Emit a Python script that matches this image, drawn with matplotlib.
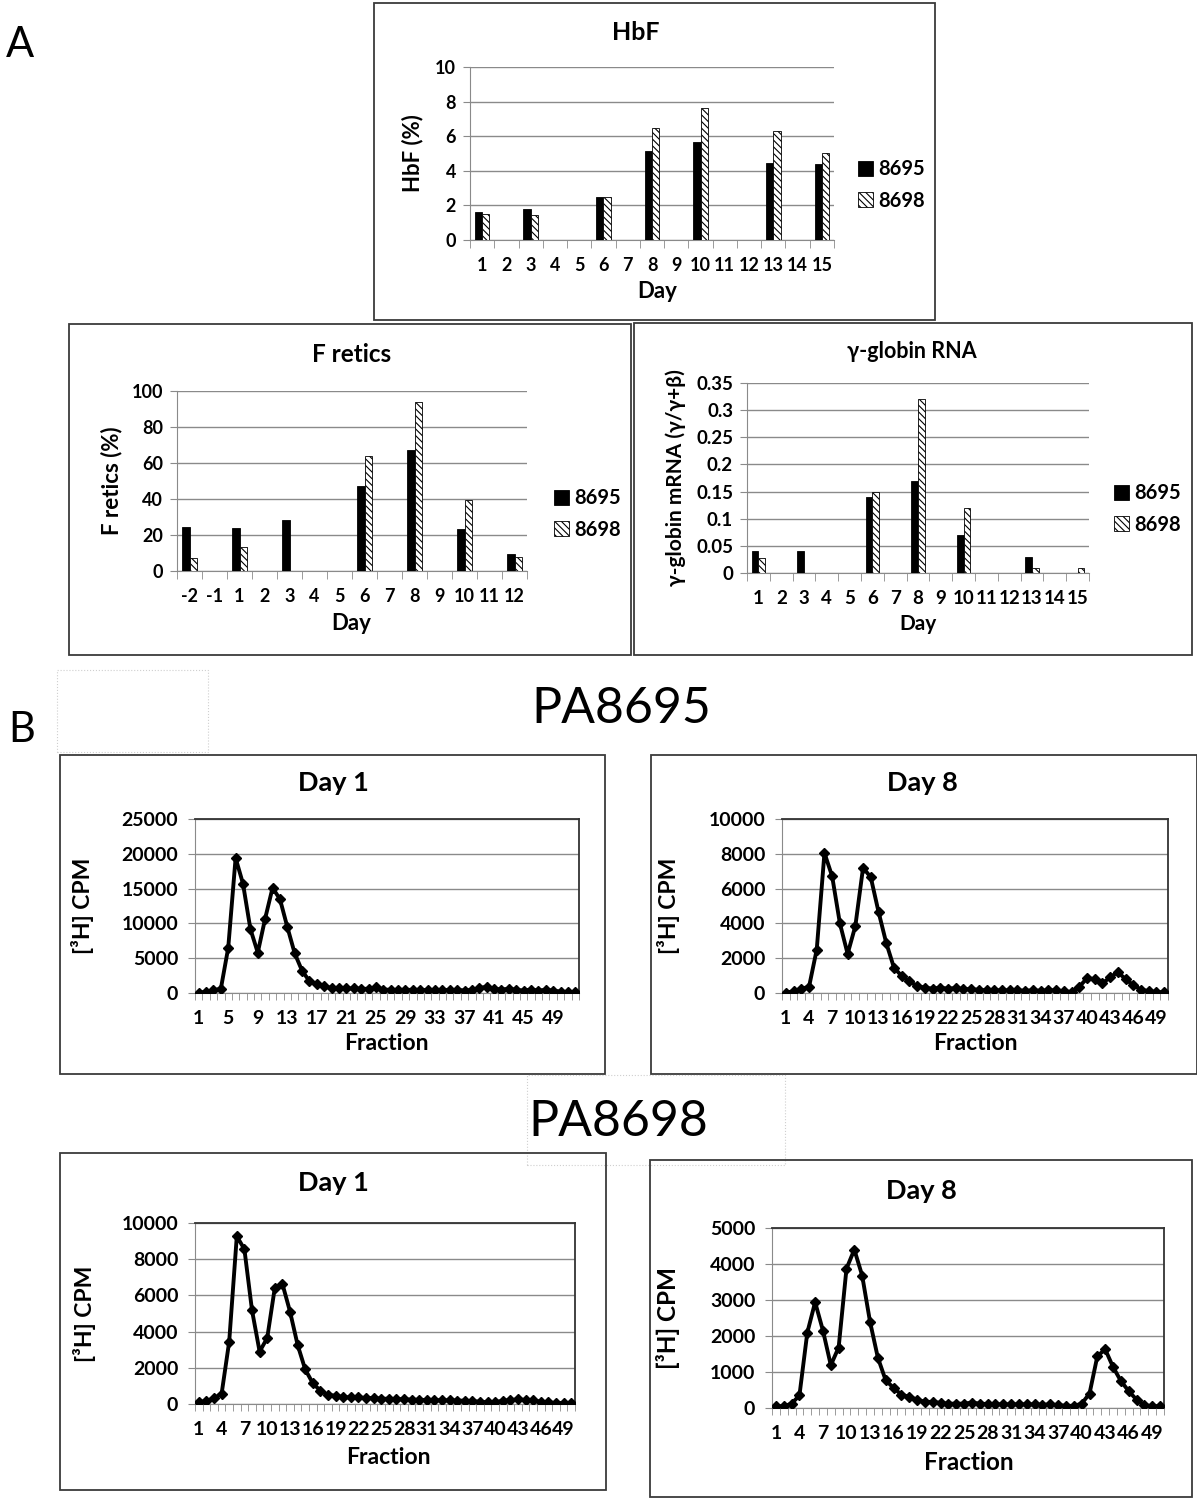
import numpy as np
import matplotlib
matplotlib.use('Agg')
import matplotlib.pyplot as plt
from matplotlib.patches import Rectangle
from matplotlib.ticker import FuncFormatter

W, H = 1197, 1500
plt.rcParams['font.family'] = ['Lato', 'DejaVu Sans']
plt.rcParams['font.weight'] = 'bold'
plt.rcParams['hatch.linewidth'] = 0.8

# --- panel A data (None = not measured) ---
hbf_days = [1, 2, 3, 4, 5, 6, 7, 8, 9, 10, 11, 12, 13, 14, 15]
hbf_8695 = [1.62, None, 1.80, None, None, 2.49, None, 5.13, None, 5.68, None, None, 4.46, None, 4.40]
hbf_8698 = [1.52, None, 1.43, None, None, 2.49, None, 6.47, None, 7.63, None, None, 6.29, None, 5.04]

fret_days = [-2, -1, 1, 2, 3, 4, 5, 6, 7, 8, 9, 10, 11, 12]
fret_8695 = [24.6, None, 24.1, None, 28.3, None, None, 47.0, None, 67.0, None, 23.1, None, 9.3]
fret_8698 = [7.0, None, 13.1, None, None, None, None, 64.0, None, 93.7, None, 39.4, None, 7.8]

glob_days = [1, 2, 3, 4, 5, 6, 7, 8, 9, 10, 11, 12, 13, 14, 15]
glob_8695 = [0.04, None, 0.04, None, None, 0.14, None, 0.17, None, 0.07, None, None, 0.03, None, None]
glob_8698 = [0.028, None, None, None, None, 0.15, None, 0.32, None, 0.12, None, None, 0.01, None, 0.01]

# --- panel B data: [3H] CPM per fraction ---
pa8695_day1 = [50, 150, 400, 600, 6500, 19400, 15700, 9200, 5800, 10700, 15100, 13500, 9500, 5700,
               3200, 1700, 1250, 950, 700, 750, 650, 650, 600, 600, 800, 500, 450, 450, 450, 450,
               450, 400, 400, 450, 400, 450, 350, 450, 700, 900, 600, 500, 600, 450, 350, 500,
               350, 450, 350, 200, 150, 150]
pa8695_day8 = [20, 100, 250, 350, 2500, 8050, 6700, 4000, 2250, 3850, 7200, 6650, 4670, 2880,
               1460, 980, 670, 400, 300, 250, 300, 250, 280, 220, 220, 180, 150, 150, 150, 150,
               150, 130, 150, 130, 150, 150, 100, 60, 350, 850, 800, 550, 900, 1200, 800, 450,
               200, 100, 50, 50]
pa8698_day1 = [110, 150, 330, 560, 3450, 9270, 8550, 5180, 2900, 3640, 6420, 6640, 5110, 3270,
               1910, 1150, 730, 510, 450, 380, 360, 360, 330, 330, 290, 290, 270, 260, 240, 230,
               220, 210, 200, 200, 190, 180, 150, 130, 90, 100, 180, 210, 260, 220, 220, 110,
               90, 55, 55, 55]
pa8698_day8 = [50, 50, 120, 350, 2090, 2940, 2150, 1190, 1680, 3870, 4400, 3680, 2400, 1400,
               770, 560, 370, 310, 230, 170, 170, 140, 120, 120, 120, 150, 120, 110, 100, 100,
               100, 100, 100, 100, 90, 100, 80, 60, 60, 120, 400, 1440, 1630, 1140, 750, 470,
               230, 80, 50, 50]

GRID = '#8a8a8a'
fig = plt.figure(figsize=(W / 100, H / 100), dpi=100)


def fx(x):
    return x / W


def fy(y):
    return 1 - y / H


def frame(x0, y0, x1, y1, **kw):
    fig.add_artist(Rectangle((fx(x0), fy(y1)), (x1 - x0) / W, (y1 - y0) / H,
                             transform=fig.transFigure, fill=False, **kw))


def axes_at(x0, y0, x1, y1):
    return fig.add_axes([fx(x0), fy(y1), (x1 - x0) / W, (y1 - y0) / H])


def fmt(v, pos):
    return '{:g}'.format(round(v, 4))


def label_texts(plot, title, title_pos, xlabel, xlabel_pos, ylabel, ylabel_x,
                tsize=18, lsize=16):
    fig.text(fx(title_pos[0]), fy(title_pos[1]), title, ha='center', va='center', fontsize=tsize)
    fig.text(fx(xlabel_pos[0]), fy(xlabel_pos[1]), xlabel, ha='center', va='center', fontsize=lsize)
    fig.text(fx(ylabel_x), fy((plot[1] + plot[3]) / 2), ylabel, ha='center', va='center',
             rotation=90, fontsize=lsize)


def bar_panel(plot, days, s1, s2, ymax, ystep, leg_pos, tsize=13):
    ax = axes_at(*plot)
    n = len(days)
    x = np.arange(n)
    a = np.array(s1, dtype=float)
    b = np.array(s2, dtype=float)
    ma, mb = ~np.isnan(a), ~np.isnan(b)
    ax.bar(x[ma] - 0.15, a[ma], 0.3, color='black', edgecolor='black', lw=0.6,
           label='8695', zorder=3)
    ax.bar(x[mb] + 0.15, b[mb], 0.3, color='white', edgecolor='black', lw=0.6,
           hatch='\\\\\\\\\\', label='8698', zorder=3)
    ax.set_xlim(-0.5, n - 0.5)
    ax.set_ylim(0, ymax)
    ax.set_yticks(np.arange(0, ymax + ystep / 2, ystep))
    ax.yaxis.set_major_formatter(FuncFormatter(fmt))
    ax.set_xticks(x)
    ax.set_xticklabels([str(d) for d in days])
    ax.set_xticks(np.arange(-0.5, n), minor=True)
    ax.yaxis.grid(True, color=GRID, lw=1)
    ax.set_axisbelow(True)
    for s in ('top', 'right'):
        ax.spines[s].set_visible(False)
    for s in ('left', 'bottom'):
        ax.spines[s].set_color(GRID)
    ax.tick_params(axis='x', which='major', length=0, pad=12, labelsize=tsize)
    ax.tick_params(axis='x', which='minor', length=6, color=GRID, direction='out')
    ax.tick_params(axis='y', length=5, color=GRID, pad=5, labelsize=tsize)
    ax.legend(loc='center left', bbox_to_anchor=(fx(leg_pos[0]), fy(leg_pos[1])),
              bbox_transform=fig.transFigure, frameon=False, fontsize=14.5,
              handlelength=0.75, handleheight=0.75, handletextpad=0.25, labelspacing=0.55,
              borderpad=0, borderaxespad=0)
    return ax


def line_panel(plot, vals, ymax, ystep, step):
    ax = axes_at(*plot)
    n = len(vals)
    fr = np.arange(1, n + 1)
    ax.plot(fr, vals, color='black', lw=2.8, marker='D', ms=5.5, zorder=3)
    ax.set_xlim(0.5, n + 0.5)
    ax.set_ylim(0, ymax)
    ax.set_yticks(np.arange(0, ymax + ystep / 2, ystep))
    ax.set_xticks(fr[::step])
    ax.set_xticklabels([str(v) for v in fr[::step]])
    ax.set_xticks(np.arange(0.5, n + 1), minor=True)
    ax.yaxis.grid(True, color=GRID, lw=1)
    ax.set_axisbelow(True)
    for s in ('top', 'right'):
        ax.spines[s].set_color('#333333')
        ax.spines[s].set_linewidth(1.3)
    for s in ('left', 'bottom'):
        ax.spines[s].set_color(GRID)
    ax.tick_params(axis='x', which='major', length=0, pad=12, labelsize=14)
    ax.tick_params(axis='x', which='minor', length=5, color=GRID, direction='out')
    ax.tick_params(axis='y', length=5, color=GRID, pad=7, labelsize=14)
    return ax


BOX = dict(edgecolor='#3a3a3a', lw=1.3)

# ---------------- panel A ----------------
fig.text(fx(20), fy(45), 'A', ha='center', va='center', fontsize=30, weight='normal')

frame(374, 3, 935, 320, **BOX)
p = (470, 67, 834, 240)
bar_panel(p, hbf_days, hbf_8695, hbf_8698, 10, 2, (858, 185))
label_texts(p, 'HbF', (636, 33), 'Day', (657, 291), 'HbF (%)', 413)

frame(69, 324, 631, 655, **BOX)
p = (177, 391, 527, 571)
bar_panel(p, fret_days, fret_8695, fret_8698, 100, 20, (554, 514))
label_texts(p, 'F retics', (352, 354), 'Day', (351, 624), 'F retics (%)', 112, tsize=17.5)

frame(634, 323, 1192, 655, **BOX)
p = (747, 383, 1089, 573)
bar_panel(p, glob_days, glob_8695, glob_8698, 0.35, 0.05, (1114, 509), tsize=13.5)
label_texts(p, '\u03b3-globin RNA', (912, 352), 'Day', (918, 624),
            '\u03b3-globin mRNA (\u03b3/\u03b3+\u03b2)', 676, tsize=15.5, lsize=15)

# ---------------- panel B ----------------
fig.text(fx(22), fy(730), 'B', ha='center', va='center', fontsize=30, weight='normal')
frame(57, 670, 208, 752, edgecolor='#cfcfcf', lw=0.8, linestyle=':')
fig.text(fx(621), fy(709), 'PA8695', ha='center', va='center', fontsize=36, weight='normal')

frame(60, 755, 605, 1074, **BOX)
p = (195, 819, 579, 993)
line_panel(p, pa8695_day1, 25000, 5000, 4)
label_texts(p, 'Day 1', (333, 783), 'Fraction', (386, 1044), '[\u00b3H] CPM', 82,
            tsize=19.5, lsize=16.5)

frame(651, 755, 1197, 1074, **BOX)
p = (782, 819, 1168, 993)
line_panel(p, pa8695_day8, 10000, 2000, 3)
label_texts(p, 'Day 8', (922, 783), 'Fraction', (975, 1044), '[\u00b3H] CPM', 668,
            tsize=19.5, lsize=16.5)

frame(527, 1075, 785, 1165, edgecolor='#cfcfcf', lw=0.8, linestyle=':')
fig.text(fx(618), fy(1122), 'PA8698', ha='center', va='center', fontsize=36, weight='normal')

frame(60, 1153, 606, 1490, **BOX)
p = (195, 1223, 575, 1404)
line_panel(p, pa8698_day1, 10000, 2000, 3)
label_texts(p, 'Day 1', (333, 1183), 'Fraction', (388, 1458), '[\u00b3H] CPM', 85,
            tsize=19.5, lsize=16.5)

frame(650, 1160, 1192, 1497, **BOX)
p = (772, 1228, 1164, 1408)
line_panel(p, pa8698_day8, 5000, 1000, 3)
label_texts(p, 'Day 8', (921, 1191), 'Fraction', (969, 1463), '[\u00b3H] CPM', 668,
            tsize=19.5, lsize=17.5)

fig.savefig('out.png', dpi=100, facecolor='white')
